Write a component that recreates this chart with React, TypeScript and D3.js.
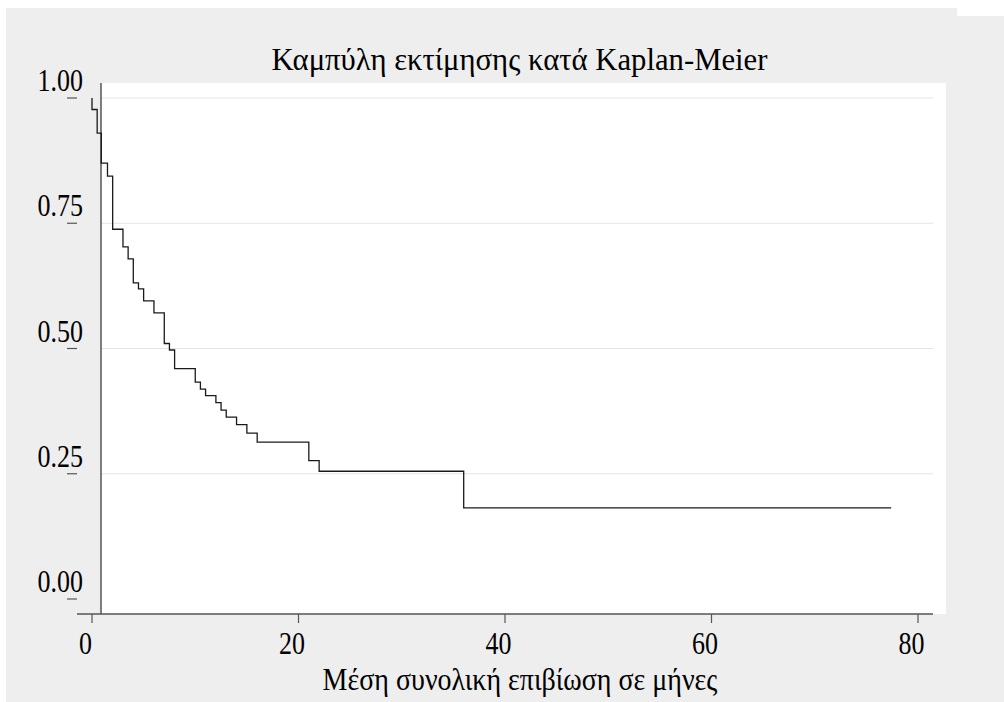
import React from "react";
import * as d3 from "d3";

const title = "Καμπύλη εκτίμησης κατά Kaplan-Meier";
const xTitle = "Μέση συνολική επιβίωση σε μήνες";
const xTicks = [0, 20, 40, 60, 80];
const yTicks = [0, 0.25, 0.5, 0.75, 1];
const yGrid = [0.25, 0.5, 0.75, 1];
const eventTimes = [0, 0.5, 0.9, 1.5, 2, 3, 3.5, 4, 4.5, 5, 6, 7, 7.5, 8, 10, 10.5, 11, 12, 12.5, 13, 14, 15, 16, 21, 22, 36];
const survival = [0.977, 0.93, 0.87, 0.844, 0.738, 0.703, 0.679, 0.631, 0.619, 0.595, 0.571, 0.51, 0.497, 0.46, 0.433, 0.419, 0.406, 0.392, 0.377, 0.363, 0.348, 0.331, 0.313, 0.276, 0.255, 0.182];
const lastTime = 77.4;

const FONT = "'Liberation Serif', 'Times New Roman', serif";

function T({ x, y, anchor = "middle", fs = 26, sy = 1.18, children }: { x: number; y: number; anchor?: string; fs?: number; sy?: number; children: React.ReactNode }) {
  return (
    <g transform={`translate(${x},${y}) scale(1,${sy})`}>
      <text x={0} y={0} textAnchor={anchor as any} fontFamily={FONT} fontSize={fs} fill="#000">
        {children}
      </text>
    </g>
  );
}

export default function App() {
  const x = d3.scaleLinear().domain([0, 80]).range([92, 918]);
  const y = d3.scaleLinear().domain([0, 1]).range([599, 98]);
  const pts: [number, number][] = [[0, 1]];
  eventTimes.forEach((t, i) => pts.push([t, survival[i]]));
  pts.push([lastTime, survival[survival.length - 1]]);
  const line = d3
    .line<[number, number]>()
    .x((d) => x(d[0]))
    .y((d) => y(d[1]))
    .curve(d3.curveStepAfter);

  return (
    <svg
      width={1004}
      height={702}
      style={{ position: "absolute", left: 0, top: 0, display: "block" }}
    >
      <rect x={0} y={0} width={1004} height={702} fill="#ffffff" />
      <rect x={6} y={8} width={951} height={694} fill="#eeeeee" />
      <rect x={957} y={16} width={47} height={686} fill="#eeeeee" />
      <rect x={101} y={83} width={845} height={531} fill="#ffffff" />
      {yGrid.map((v) => (
        <line key={v} x1={101} x2={933} y1={y(v)} y2={y(v)} stroke="#e4e4e4" strokeWidth={1} />
      ))}
      <line x1={101} x2={101} y1={83} y2={614} stroke="#555" strokeWidth={1.5} />
      {yTicks.map((v) => (
        <g key={v}>
          <line x1={67} x2={77} y1={y(v)} y2={y(v)} stroke="#555" strokeWidth={1.2} />
          <T x={83} y={y(v) - 7} anchor="end">{v.toFixed(2)}</T>
        </g>
      ))}
      <line x1={77} x2={933} y1={614} y2={614} stroke="#555" strokeWidth={1.5} />
      {xTicks.map((v) => (
        <g key={v}>
          <line x1={x(v)} x2={x(v)} y1={614} y2={623} stroke="#555" strokeWidth={1.2} />
          <T x={x(v) - 6.5} y={654}>{String(v)}</T>
        </g>
      ))}
      <path d={line(pts) || ""} fill="none" stroke="#1a1a1a" strokeWidth={1.3} />
      <T x={520} y={690} fs={28} sy={1.1}>{xTitle}</T>
      <T x={519.5} y={70} fs={30.7} sy={1}>{title}</T>
    </svg>
  );
}
